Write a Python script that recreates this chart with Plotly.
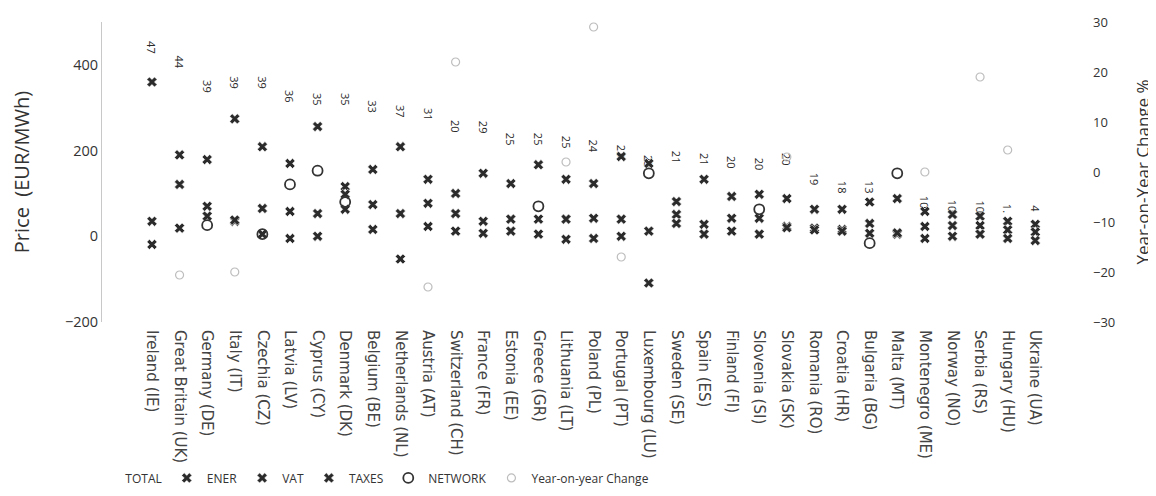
import plotly.graph_objects as go

countries = ["Ireland (IE)", "Great Britain (UK)", "Germany (DE)", "Italy (IT)", "Czechia (CZ)",
             "Latvia (LV)", "Cyprus (CY)", "Denmark (DK)", "Belgium (BE)", "Netherlands (NL)",
             "Austria (AT)", "Switzerland (CH)", "France (FR)", "Estonia (EE)", "Greece (GR)",
             "Lithuania (LT)", "Poland (PL)", "Portugal (PT)", "Luxembourg (LU)", "Sweden (SE)",
             "Spain (ES)", "Finland (FI)", "Slovenia (SI)", "Slovakia (SK)", "Romania (RO)",
             "Croatia (HR)", "Bulgaria (BG)", "Malta (MT)", "Montenegro (ME)", "Norway (NO)",
             "Serbia (RS)", "Hungary (HU)", "Ukraine (UA)"]

total = [419, 384, 328, 337, 337, 305, 298, 298, 281, 270, 263, 235, 233, 205, 205, 198, 188,
         177, 153, 163, 158, 151, 147, 158, 112, 93, 93, 150, 58, 49, 47, 47, 49]
total_labels = ["47", "44", "39", "39", "39", "36", "35", "35", "33", "37", "31", "20", "29",
                "25", "25", "25", "24", "23", "23", "21", "21", "20", "20", "20", "19", "18",
                "13", "", "10", "10", "10", "1.", "4"]

ener = [360, 190, 179, 274, 209, 170, 256, 116, 156, 209, 133, 100, 147, 123, 167, 133, 123,
        186, 170, 81, 133, 93, 98, 88, 63, 63, 80, 88, 58, 51, 47, 35, 28]
vat = [35, 121, 70, 35, 65, 58, 53, 98, 74, 53, 77, 53, 35, 40, 40, 40, 42,
       40, 12, 51, 28, 42, 42, 23, 19, 16, 30, 5, 23, 25, 25, 15, 10]
taxes = [-19, 19, 47, 38, 5, -5, 0, 63, 16, -53, 23, 12, 7, 12, 5, -7, -5,
         0, -109, 30, 5, 12, 5, 20, 15, 12, 7, 8, -5, 0, 5, -5, -10]
network = [None, None, 26, None, 5, 121, 153, 80, None, None, None, None, None, None, 70, None,
           None, None, 147, None, None, None, 63, None, None, None, -16, 147, None, None, None,
           None, None]
yoy = [None, -20.6, None, -20, None, None, None, None, None, None, -23, 22, None, None, None, 2,
       29, -17, None, None, None, None, None, 3, None, None, None, None, 0, None, 19, 4.4, None]

FONT = "Open Sans, DejaVu Sans, sans-serif"
WIDE = "DejaVu Sans, Open Sans, sans-serif"
xmark = dict(symbol="x", size=9, color="#2b2b2b", line=dict(color="#ffffff", width=0.6))

fig = go.Figure()
fig.add_trace(go.Bar(
    x=countries, y=total, name="TOTAL", text=total_labels, textposition="outside",
    textangle=90, constraintext="none", cliponaxis=False,
    textfont=dict(size=11, color="#2a2a2a", family=FONT),
    marker=dict(color="rgba(0,0,0,0)", line=dict(width=0)), width=0.7,
    hoverinfo="skip"))
fig.add_trace(go.Scatter(x=countries, y=ener, name="ENER", mode="markers", marker=xmark))
fig.add_trace(go.Scatter(x=countries, y=vat, name="VAT", mode="markers", marker=xmark))
fig.add_trace(go.Scatter(x=countries, y=taxes, name="TAXES", mode="markers", marker=xmark))
fig.add_trace(go.Scatter(x=countries, y=network, name="NETWORK", mode="markers",
                         marker=dict(symbol="circle-open", size=10, color="#333333",
                                     line=dict(width=1.8))))
fig.add_trace(go.Scatter(x=countries, y=yoy, name="Year-on-year Change", mode="markers",
                         yaxis="y2",
                         marker=dict(symbol="circle-open", size=8, color="#bdbdbd",
                                     line=dict(width=1.2))))

fig.update_layout(
    width=1148, height=488, autosize=False,
    margin=dict(l=94, r=76, t=14, b=174, autoexpand=False),
    paper_bgcolor="white", plot_bgcolor="white",
    font=dict(family=FONT, size=12, color="#333333"),
    showlegend=True,
    legend=dict(orientation="h", x=-0.017, xanchor="left", yref="container",
                y=0.037, yanchor="middle",
                font=dict(size=12, color="#333333"), bgcolor="rgba(0,0,0,0)"),
    xaxis=dict(type="category", categoryorder="array", categoryarray=countries,
               range=[-1.81, 33.62], tickangle=90, showgrid=False, zeroline=False,
               showline=False, ticks="", automargin=False, ticklabelstandoff=7,
               tickfont=dict(size=15, color="#444444", family=WIDE)),
    yaxis=dict(range=[-200, 500], tickvals=[-200, 0, 200, 400], showgrid=False,
               zeroline=False, showline=True, linecolor="#c8c8c8", linewidth=1,
               ticks="", automargin=False, tickfont=dict(size=14.5, color="#333333"),
               title=dict(text="Price  (EUR/MWh)", font=dict(size=20, color="#333333"),
                          standoff=38)),
    yaxis2=dict(overlaying="y", side="right", range=[-30, 30],
                tickvals=[-30, -20, -10, 0, 10, 20, 30], showgrid=False, zeroline=False,
                showline=False, ticks="", automargin=False, ticklabelstandoff=12,
                tickfont=dict(size=13, color="#333333"),
                title=dict(text="Year-on-Year Change %", font=dict(size=17, color="#333333"),
                           standoff=22)),
    bargap=0.3,
)

fig.write_html("out.html")
